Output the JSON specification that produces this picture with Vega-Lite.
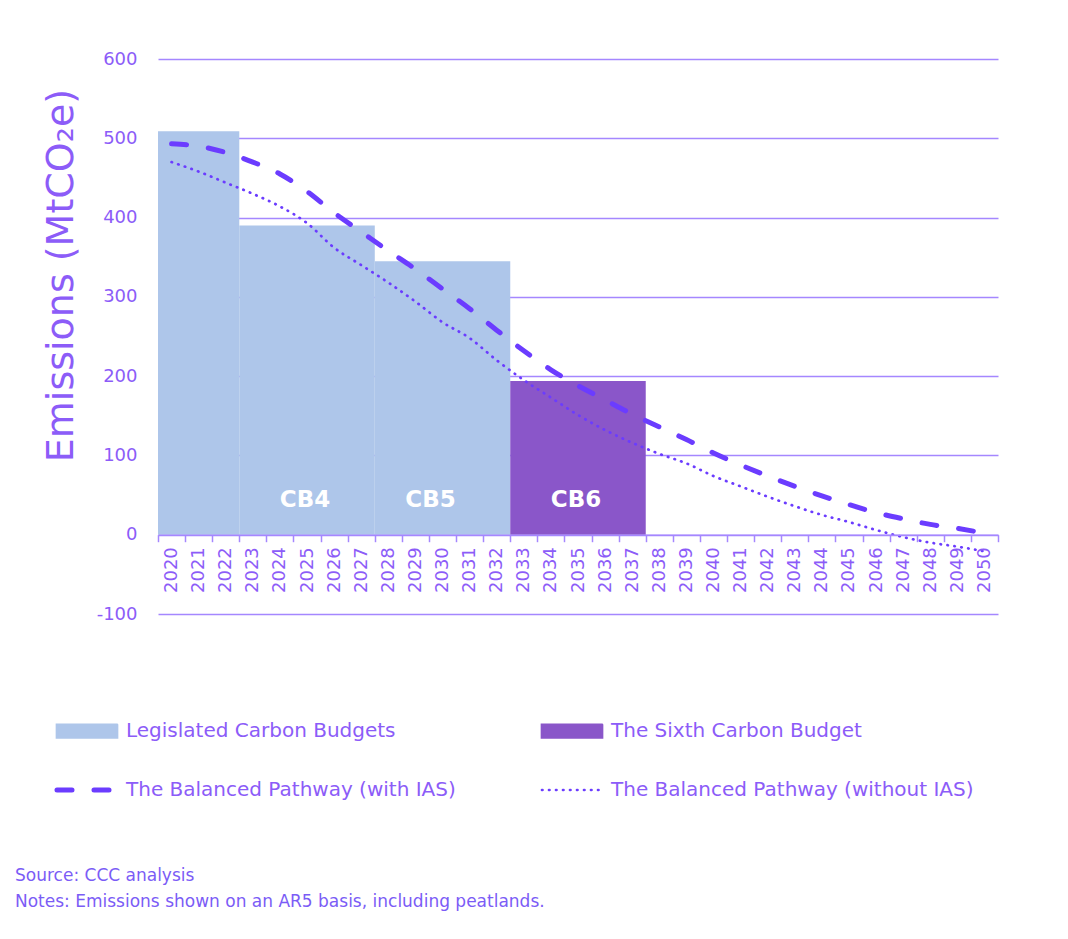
{
  "$schema": "https://vega.github.io/schema/vega-lite/v6.json",
  "width": 840,
  "height": 555,
  "autosize": {"type": "none"},
  "padding": {"left": 158, "top": 59, "right": 70, "bottom": 325},
  "background": "white",
  "config": {
    "view": {"stroke": null},
    "font": "DejaVu Sans"
  },
  "title": {
    "text": ["Source: CCC analysis", "Notes: Emissions shown on an AR5 basis, including peatlands."],
    "orient": "bottom",
    "anchor": "start",
    "frame": "group",
    "font": "DejaVu Sans",
    "fontSize": 17,
    "fontWeight": "normal",
    "color": "#7b5cf6",
    "lineHeight": 26,
    "offset": 68,
    "dx": -143
  },
  "datasets": {
    "budgets": [
      {"series": "Legislated Carbon Budgets", "start": 2020, "end": 2022, "value": 509},
      {"series": "Legislated Carbon Budgets", "start": 2023, "end": 2027, "value": 390},
      {"series": "Legislated Carbon Budgets", "start": 2028, "end": 2032, "value": 345},
      {"series": "The Sixth Carbon Budget", "start": 2033, "end": 2037, "value": 194}
    ],
    "labels": [
      {"label": "CB4", "year": 2025},
      {"label": "CB5", "year": 2030},
      {"label": "CB6", "year": 2035}
    ],
    "pathway": [
      {"series": "The Balanced Pathway (with IAS)", "year": 2020, "value": 493},
      {"series": "The Balanced Pathway (with IAS)", "year": 2021, "value": 490},
      {"series": "The Balanced Pathway (with IAS)", "year": 2022, "value": 482},
      {"series": "The Balanced Pathway (with IAS)", "year": 2023, "value": 470},
      {"series": "The Balanced Pathway (with IAS)", "year": 2024, "value": 455},
      {"series": "The Balanced Pathway (with IAS)", "year": 2025, "value": 433},
      {"series": "The Balanced Pathway (with IAS)", "year": 2026, "value": 406},
      {"series": "The Balanced Pathway (with IAS)", "year": 2027, "value": 382},
      {"series": "The Balanced Pathway (with IAS)", "year": 2028, "value": 358},
      {"series": "The Balanced Pathway (with IAS)", "year": 2029, "value": 335},
      {"series": "The Balanced Pathway (with IAS)", "year": 2030, "value": 310},
      {"series": "The Balanced Pathway (with IAS)", "year": 2031, "value": 285},
      {"series": "The Balanced Pathway (with IAS)", "year": 2032, "value": 258},
      {"series": "The Balanced Pathway (with IAS)", "year": 2033, "value": 232},
      {"series": "The Balanced Pathway (with IAS)", "year": 2034, "value": 208},
      {"series": "The Balanced Pathway (with IAS)", "year": 2035, "value": 188},
      {"series": "The Balanced Pathway (with IAS)", "year": 2036, "value": 170},
      {"series": "The Balanced Pathway (with IAS)", "year": 2037, "value": 152},
      {"series": "The Balanced Pathway (with IAS)", "year": 2038, "value": 136},
      {"series": "The Balanced Pathway (with IAS)", "year": 2039, "value": 120},
      {"series": "The Balanced Pathway (with IAS)", "year": 2040, "value": 103},
      {"series": "The Balanced Pathway (with IAS)", "year": 2041, "value": 88},
      {"series": "The Balanced Pathway (with IAS)", "year": 2042, "value": 74},
      {"series": "The Balanced Pathway (with IAS)", "year": 2043, "value": 61},
      {"series": "The Balanced Pathway (with IAS)", "year": 2044, "value": 49},
      {"series": "The Balanced Pathway (with IAS)", "year": 2045, "value": 38},
      {"series": "The Balanced Pathway (with IAS)", "year": 2046, "value": 28},
      {"series": "The Balanced Pathway (with IAS)", "year": 2047, "value": 20},
      {"series": "The Balanced Pathway (with IAS)", "year": 2048, "value": 13},
      {"series": "The Balanced Pathway (with IAS)", "year": 2049, "value": 8},
      {"series": "The Balanced Pathway (with IAS)", "year": 2050, "value": 2},
      {"series": "The Balanced Pathway (without IAS)", "year": 2020, "value": 470},
      {"series": "The Balanced Pathway (without IAS)", "year": 2021, "value": 458},
      {"series": "The Balanced Pathway (without IAS)", "year": 2022, "value": 444},
      {"series": "The Balanced Pathway (without IAS)", "year": 2023, "value": 430},
      {"series": "The Balanced Pathway (without IAS)", "year": 2024, "value": 414},
      {"series": "The Balanced Pathway (without IAS)", "year": 2025, "value": 393},
      {"series": "The Balanced Pathway (without IAS)", "year": 2026, "value": 362},
      {"series": "The Balanced Pathway (without IAS)", "year": 2027, "value": 340},
      {"series": "The Balanced Pathway (without IAS)", "year": 2028, "value": 318},
      {"series": "The Balanced Pathway (without IAS)", "year": 2029, "value": 294},
      {"series": "The Balanced Pathway (without IAS)", "year": 2030, "value": 268},
      {"series": "The Balanced Pathway (without IAS)", "year": 2031, "value": 248},
      {"series": "The Balanced Pathway (without IAS)", "year": 2032, "value": 220},
      {"series": "The Balanced Pathway (without IAS)", "year": 2033, "value": 195},
      {"series": "The Balanced Pathway (without IAS)", "year": 2034, "value": 173},
      {"series": "The Balanced Pathway (without IAS)", "year": 2035, "value": 151},
      {"series": "The Balanced Pathway (without IAS)", "year": 2036, "value": 132},
      {"series": "The Balanced Pathway (without IAS)", "year": 2037, "value": 116},
      {"series": "The Balanced Pathway (without IAS)", "year": 2038, "value": 102},
      {"series": "The Balanced Pathway (without IAS)", "year": 2039, "value": 90},
      {"series": "The Balanced Pathway (without IAS)", "year": 2040, "value": 74},
      {"series": "The Balanced Pathway (without IAS)", "year": 2041, "value": 61},
      {"series": "The Balanced Pathway (without IAS)", "year": 2042, "value": 48},
      {"series": "The Balanced Pathway (without IAS)", "year": 2043, "value": 36},
      {"series": "The Balanced Pathway (without IAS)", "year": 2044, "value": 25},
      {"series": "The Balanced Pathway (without IAS)", "year": 2045, "value": 16},
      {"series": "The Balanced Pathway (without IAS)", "year": 2046, "value": 6},
      {"series": "The Balanced Pathway (without IAS)", "year": 2047, "value": -3},
      {"series": "The Balanced Pathway (without IAS)", "year": 2048, "value": -10},
      {"series": "The Balanced Pathway (without IAS)", "year": 2049, "value": -15},
      {"series": "The Balanced Pathway (without IAS)", "year": 2050, "value": -21}
    ]
  },
  "encoding": {
    "color": {
      "field": "series",
      "type": "nominal",
      "scale": {
        "domain": ["Legislated Carbon Budgets", "The Sixth Carbon Budget", "The Balanced Pathway (with IAS)", "The Balanced Pathway (without IAS)"],
        "range": ["#aec6ea", "#8a56c9", "#6b3cff", "#6b3cff"]
      },
      "legend": {
        "orient": "none",
        "legendX": -81,
        "legendY": 662,
        "title": null,
        "columns": 2,
        "direction": "horizontal",
        "symbolType": "stroke",
        "symbolSize": 3600,
        "labelFont": "DejaVu Sans",
        "labelFontSize": 20,
        "labelColor": "#8c5cf8",
        "labelOffset": 29,
        "labelLimit": 0,
        "columnPadding": 80,
        "rowPadding": 37,
        "encode": {
          "symbols": {
            "update": {
              "shape": {"signal": "(datum.value === 'Legislated Carbon Budgets' || datum.value === 'The Sixth Carbon Budget') ? 'M-1,-0.21H1V0.21H-1Z' : 'stroke'"},
              "fill": {"signal": "(datum.value === 'Legislated Carbon Budgets' || datum.value === 'The Sixth Carbon Budget') ? scale('color', datum.value) : 'transparent'"},
              "stroke": {"signal": "(datum.value === 'Legislated Carbon Budgets' || datum.value === 'The Sixth Carbon Budget') ? 'transparent' : scale('color', datum.value)"},
              "strokeWidth": {"signal": "datum.value === 'The Balanced Pathway (with IAS)' ? 5 : 2.7"},
              "strokeDash": {"signal": "datum.value === 'The Balanced Pathway (with IAS)' ? [15, 22] : (datum.value === 'The Balanced Pathway (without IAS)' ? [0.5, 6.5] : [1, 0])"},
              "strokeCap": {"value": "round"},
              "opacity": {"value": 1}
            }
          }
        }
      }
    }
  },
  "layer": [
    {
      "data": {"name": "budgets"},
      "mark": {"type": "rect"},
      "encoding": {
        "x": {
          "field": "start",
          "type": "ordinal",
          "bandPosition": 0,
          "scale": {
            "type": "band",
            "paddingInner": 0,
            "paddingOuter": 0,
            "domain": [2020, 2021, 2022, 2023, 2024, 2025, 2026, 2027, 2028, 2029, 2030, 2031, 2032, 2033, 2034, 2035, 2036, 2037, 2038, 2039, 2040, 2041, 2042, 2043, 2044, 2045, 2046, 2047, 2048, 2049, 2050]
          },
          "axis": {
            "title": null,
            "offset": -79.29,
            "tickBand": "extent",
            "labelAngle": -90,
            "tickSize": 7,
            "labelPadding": 5,
            "domainColor": "#a587ff",
            "domainWidth": 1.5,
            "tickColor": "#a587ff",
            "tickWidth": 1.5,
            "labelColor": "#8c5cf8",
            "labelFont": "DejaVu Sans",
            "labelFontSize": 18,
            "grid": false,
            "zindex": 1
          }
        },
        "x2": {"field": "end", "bandPosition": 1},
        "y": {
          "field": "value",
          "type": "quantitative",
          "scale": {"domain": [-100, 600], "nice": false, "zero": false},
          "axis": {
            "title": "Emissions (MtCO₂e)",
            "values": [-100, 0, 100, 200, 300, 400, 500, 600],
            "labelExpr": "replace(datum.label, '−', '-')",
            "grid": true,
            "gridColor": "#a587ff",
            "gridWidth": 1.5,
            "domain": false,
            "ticks": false,
            "labelPadding": 21,
            "labelFont": "DejaVu Sans",
            "labelFontSize": 18,
            "labelColor": "#8c5cf8",
            "titleFont": "DejaVu Sans",
            "titleFontSize": 38,
            "titleFontWeight": "normal",
            "titleColor": "#8c5cf8",
            "titleX": -78,
            "titleY": 216
          }
        },
        "y2": {"datum": 0}
      }
    },
    {
      "data": {"name": "pathway"},
      "transform": [{"filter": "datum.series === 'The Balanced Pathway (with IAS)'"}],
      "mark": {"type": "line", "strokeWidth": 5, "strokeCap": "round", "interpolate": "monotone", "strokeDash": [15, 22]},
      "encoding": {
        "x": {"field": "year", "type": "ordinal"},
        "y": {"field": "value", "type": "quantitative"}
      }
    },
    {
      "data": {"name": "pathway"},
      "transform": [{"filter": "datum.series === 'The Balanced Pathway (without IAS)'"}],
      "mark": {"type": "line", "strokeWidth": 2.7, "strokeCap": "round", "interpolate": "monotone", "strokeDash": [0.5, 6.5]},
      "encoding": {
        "x": {"field": "year", "type": "ordinal"},
        "y": {"field": "value", "type": "quantitative"}
      }
    },
    {
      "data": {"name": "labels"},
      "transform": [{"filter": "datum.label !== 'CB5'"}],
      "mark": {"type": "text", "font": "DejaVu Sans", "fontSize": 23, "fontWeight": "bold", "baseline": "middle", "align": "center", "dx": -2},
      "encoding": {
        "x": {"field": "year", "type": "ordinal"},
        "y": {"datum": 44},
        "text": {"field": "label"},
        "color": {"value": "white"}
      }
    },
    {
      "data": {"name": "labels"},
      "transform": [{"filter": "datum.label === 'CB5'"}],
      "mark": {"type": "text", "font": "DejaVu Sans", "fontSize": 23, "fontWeight": "bold", "baseline": "middle", "align": "center", "dx": -12},
      "encoding": {
        "x": {"field": "year", "type": "ordinal"},
        "y": {"datum": 44},
        "text": {"field": "label"},
        "color": {"value": "white"}
      }
    }
  ]
}
